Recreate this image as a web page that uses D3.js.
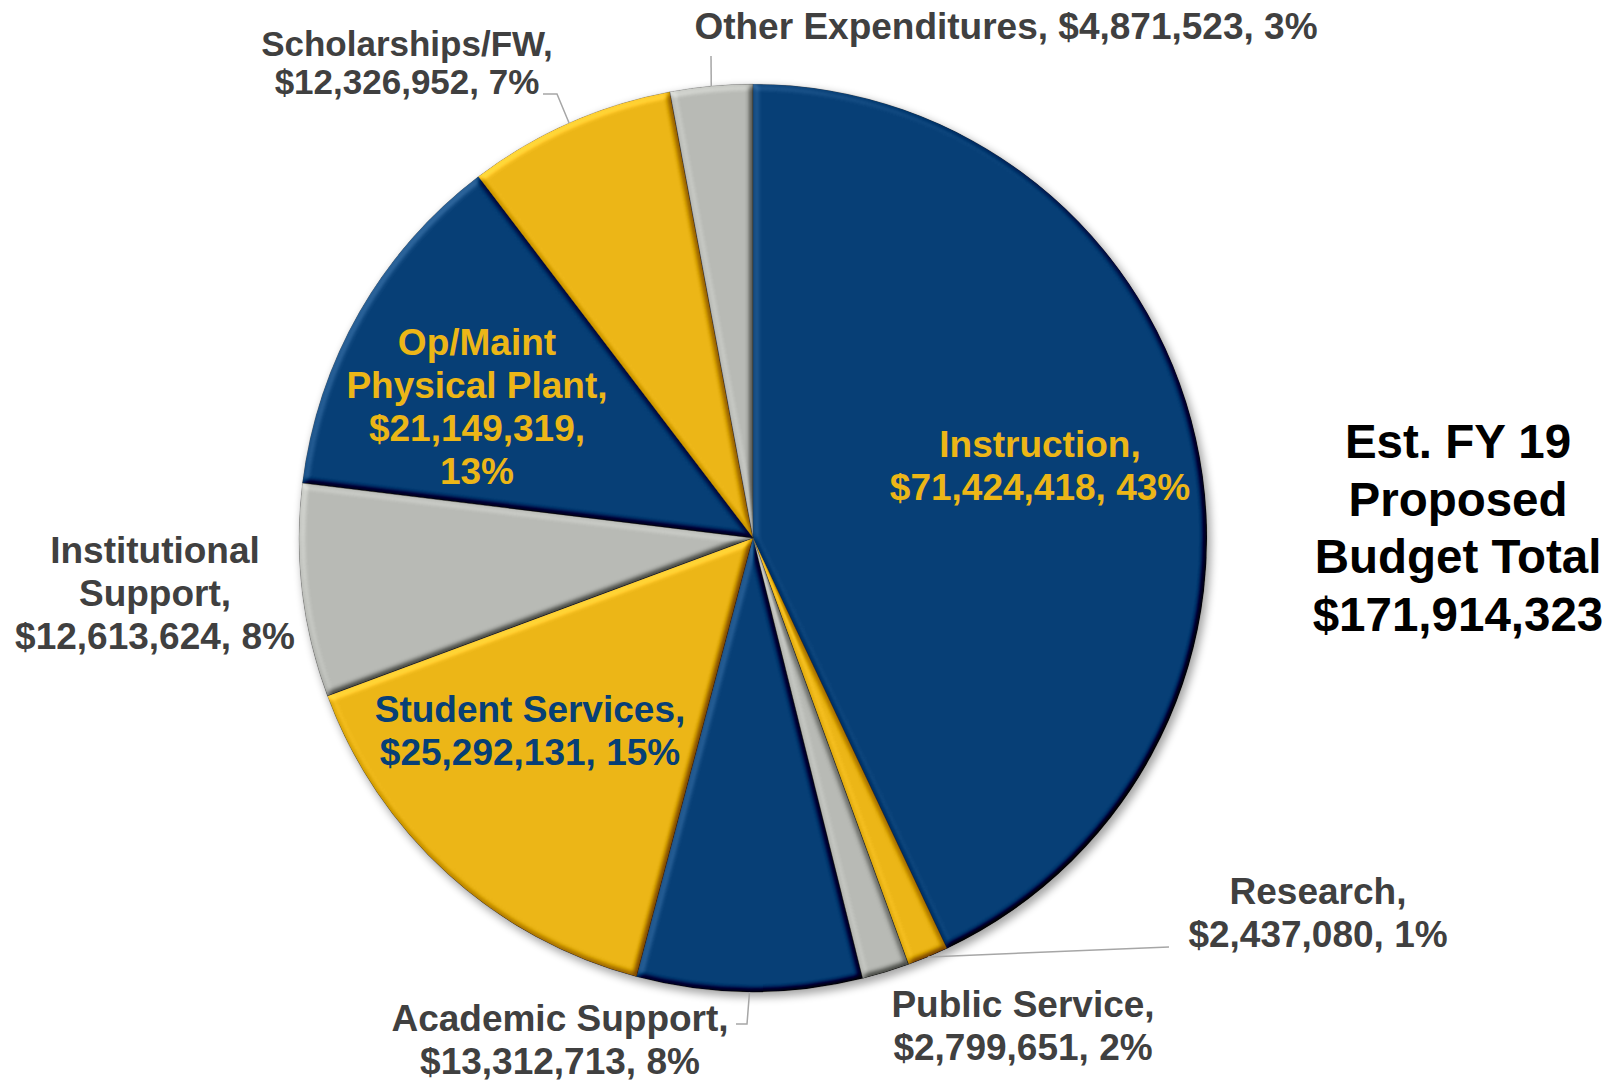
<!DOCTYPE html>
<html>
<head>
<meta charset="utf-8">
<script src="https://cdn.jsdelivr.net/npm/d3@7"></script>
<style>
  html, body { margin: 0; padding: 0; background: #fff; }
  svg { display: block; }
  text { font-family: "Liberation Sans", Arial, sans-serif; font-weight: bold; }
</style>
</head>
<body>
<svg id="chart" width="1608" height="1081"></svg>
<script>
// Budget categories, clockwise from 12 o'clock
const categories = [
  "Instruction", "Research", "Public Service", "Academic Support",
  "Student Services", "Institutional Support", "Op/Maint Physical Plant",
  "Scholarships/FW", "Other Expenditures"
];
const values = [
  71424418, 2437080, 2799651, 13312713,
  25292131, 12613624, 21149319, 12326952, 4871523
];
const titleLines = ["Est. FY 19", "Proposed", "Budget Total", "$171,914,323"];

// Palette
const NAVY = "#073f76", GOLD = "#ecb617", GRAY = "#b8bab5", INK = "#404040";
const sliceColors = [NAVY, GOLD, GRAY, NAVY, GOLD, GRAY, NAVY, GOLD, GRAY];

// Label placement (anchor x, first baseline y, font size, line step, line builder, colour, leader path)
const fmtMoney = d3.format("$,");
const labelLayout = [
  { x: 1040, y: 457, size: 37, step: 43, color: GOLD, lines: (n, v, p) => [n + ",", v + ", " + p] },
  { x: 1318, y: 904, size: 37, step: 43, color: INK, lines: (n, v, p) => [n + ",", v + ", " + p], leader: [[1169, 947]] },
  { x: 1023, y: 1017, size: 37, step: 43, color: INK, lines: (n, v, p) => [n + ",", v + ", " + p] },
  { x: 560, y: 1031, size: 37, step: 43, color: INK, lines: (n, v, p) => [n + ",", v + ", " + p], leader: [[747, 1024], [736, 1024]] },
  { x: 530, y: 722, size: 37, step: 43, color: NAVY, lines: (n, v, p) => [n + ",", v + ", " + p] },
  { x: 155, y: 563, size: 37, step: 43, color: INK, lines: (n, v, p) => { const s = n.split(" "); return [s[0], s[1] + ",", v + ", " + p]; } },
  { x: 477, y: 355, size: 37, step: 43, color: GOLD, lines: (n, v, p) => { const s = n.split(" "); return [s[0], s[1] + " " + s[2] + ",", v + ",", p]; } },
  { x: 407, y: 56, size: 35, step: 38, color: INK, lines: (n, v, p) => [n + ",", v + ", " + p], leader: [[557, 94], [543, 94]] },
  { x: 1006, y: 39, size: 37, step: 43, color: INK, lines: (n, v, p) => [n + ", " + v + ", " + p], leader: [[711, 56]] }
];

const data = categories.map((c, i) => ({ name: c, value: values[i] }));
const total = d3.sum(values);

const svg = d3.select("#chart");
const cx = 753, cy = 538, R = 454;

const defs = svg.append("defs");

// Soft bevel for each wedge: light from upper-left
const f = defs.append("filter").attr("id", "bevel")
  .attr("x", "-10%").attr("y", "-10%").attr("width", "120%").attr("height", "120%")
  .attr("color-interpolation-filters", "sRGB");
f.append("feGaussianBlur").attr("in", "SourceAlpha").attr("stdDeviation", 3).attr("result", "b");
f.append("feDiffuseLighting").attr("in", "b").attr("surfaceScale", 5)
  .attr("diffuseConstant", 1).attr("lighting-color", "#fff").attr("result", "d")
  .append("feDistantLight").attr("azimuth", 225).attr("elevation", 50);
f.append("feComposite").attr("in", "SourceGraphic").attr("in2", "d")
  .attr("operator", "arithmetic").attr("k1", 0).attr("k2", 1).attr("k3", 0.6).attr("k4", -0.46)
  .attr("result", "c");
f.append("feComposite").attr("in", "c").attr("in2", "SourceAlpha").attr("operator", "in");

// Soft shadow under the whole pie
const sh = defs.append("filter").attr("id", "shadow")
  .attr("x", "-10%").attr("y", "-10%").attr("width", "120%").attr("height", "120%");
sh.append("feGaussianBlur").attr("stdDeviation", 4);

const pie = d3.pie().sort(null).value(d => d.value);
const arcs = pie(data);
const arc = d3.arc().innerRadius(0).outerRadius(R);
const rimArc = d3.arc().innerRadius(R).outerRadius(R);

const g = svg.append("g").attr("transform", `translate(${cx},${cy})`);

g.append("path")
  .attr("d", d3.arc().innerRadius(0).outerRadius(R + 1)({ startAngle: 0, endAngle: 2 * Math.PI }))
  .attr("transform", "translate(3,4)")
  .attr("fill", "#000")
  .attr("opacity", 0.35)
  .attr("filter", "url(#shadow)");

g.selectAll("path.slice")
  .data(arcs)
  .join("path")
  .attr("class", "slice")
  .attr("d", arc)
  .attr("fill", (d, i) => sliceColors[i])
  .attr("stroke", "#3c3c3c")
  .attr("stroke-opacity", 0.35)
  .attr("stroke-width", 1)
  .attr("filter", "url(#bevel)");

// Leader lines from the rim to the outside labels
const leaderG = svg.append("g");
arcs.forEach((d, i) => {
  const L = labelLayout[i];
  if (!L.leader) return;
  const [ex, ey] = rimArc.centroid(d);
  const pts = [[cx + ex, cy + ey], ...L.leader];
  leaderG.append("path")
    .attr("d", d3.line()(pts))
    .attr("fill", "none")
    .attr("stroke", "#a6a6a6")
    .attr("stroke-width", 1.5);
});

// Data labels
const lblG = svg.append("g");
arcs.forEach((d, i) => {
  const L = labelLayout[i];
  const pct = Math.round(d.data.value / total * 100) + "%";
  const lines = L.lines(d.data.name, fmtMoney(d.data.value), pct);
  const t = lblG.append("text")
    .attr("text-anchor", "middle")
    .attr("font-size", L.size)
    .attr("fill", L.color);
  lines.forEach((ln, k) => {
    t.append("tspan").attr("x", L.x).attr("y", L.y + k * L.step).text(ln);
  });
});

// Total block on the right
const tt = svg.append("text")
  .attr("text-anchor", "middle")
  .attr("font-size", 47.5)
  .attr("fill", "#000");
titleLines.forEach((ln, k) => {
  tt.append("tspan").attr("x", 1458).attr("y", 458 + k * 57.5).text(ln);
});
</script>
</body>
</html>
